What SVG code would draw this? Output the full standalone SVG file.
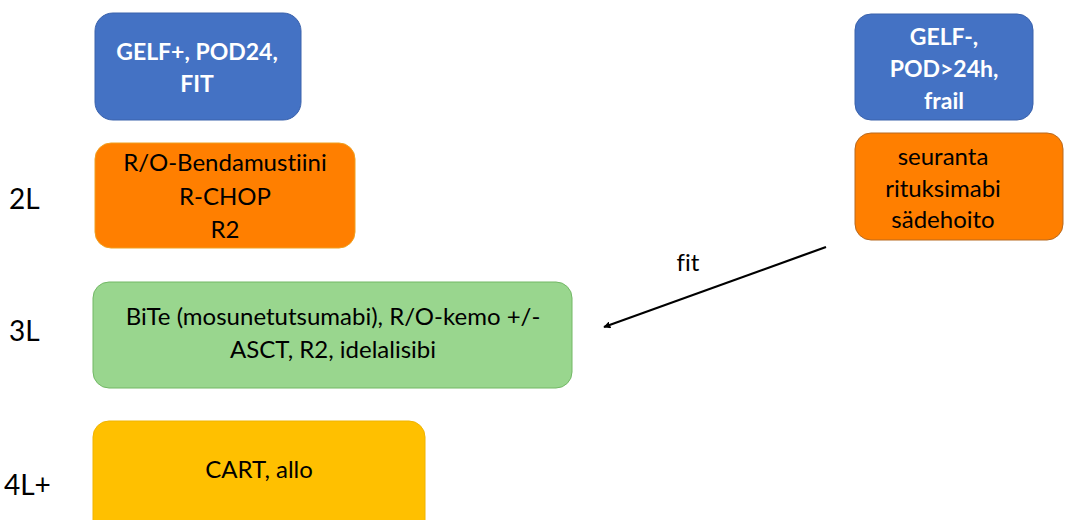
<svg xmlns="http://www.w3.org/2000/svg" width="1065" height="520" viewBox="0 0 1065 520">
<defs>
<style>
text{font-family:Lato,"Open Sans","Liberation Sans",sans-serif;text-anchor:middle;font-variant-ligatures:none;}
.w{fill:#fff;font-weight:bold;font-size:23px;}
.b{fill:#000;font-size:24px;}
.lbl{fill:#000;font-size:28px;text-anchor:start;}
.blue{fill:#4472C4;stroke:#3A62AC;stroke-width:1;}
.orange{fill:#FF7F00;stroke:#F0A020;stroke-width:1;}
.orange2{fill:#FF7F00;stroke:#B86A20;stroke-width:1;}
.green{fill:#99D68E;stroke:#72B865;stroke-width:1;}
.yellow{fill:#FFC000;stroke:#F0B400;stroke-width:1;}
</style>
<marker id="ah" viewBox="0 0 10 10" refX="9" refY="5" markerWidth="7" markerHeight="7" orient="auto" markerUnits="userSpaceOnUse">
<path d="M0,0 L10,5 L0,10 z" fill="#000"/>
</marker>
</defs>
<rect width="1065" height="520" fill="#fff"/>
<g id="label-2L"><text class="lbl" x="9" y="209">2L</text></g>
<g id="label-3L"><text class="lbl" x="9" y="341">3L</text></g>
<g id="label-4L"><text class="lbl" x="4" y="495">4L+</text></g>
<g id="n-gelfplus">
<rect class="blue" x="95" y="13" width="206" height="107" rx="18"/>
<text class="w" x="197" y="60">GELF+, POD24,</text>
<text class="w" x="197" y="92">FIT</text>
</g>
<g id="n-2L-left">
<rect class="orange" x="95" y="143" width="260" height="105" rx="16"/>
<text class="b" x="225" y="171">R/O-Bendamustiini</text>
<text class="b" x="225" y="205">R-CHOP</text>
<text class="b" x="225" y="238">R2</text>
</g>
<g id="n-gelfminus">
<rect class="blue" x="855" y="14" width="178" height="106" rx="16"/>
<text class="w" x="944" y="45">GELF-,</text>
<text class="w" x="944" y="77">POD&gt;24h,</text>
<text class="w" x="944" y="109">frail</text>
</g>
<g id="n-2L-right">
<rect class="orange2" x="855" y="133" width="208" height="107" rx="16"/>
<text class="b" x="943" y="165">seuranta</text>
<text class="b" x="943" y="197">rituksimabi</text>
<text class="b" x="943" y="228">sädehoito</text>
</g>
<g id="n-3L">
<rect class="green" x="93" y="282" width="479" height="106" rx="16"/>
<text class="b" x="333" y="325">BiTe (mosunetutsumabi), R/O-kemo +/-</text>
<text class="b" x="333" y="358">ASCT, R2, idelalisibi</text>
</g>
<g id="n-4L">
<rect class="yellow" x="93" y="421" width="332" height="120" rx="16"/>
<text class="b" x="259" y="478">CART, allo</text>
</g>
<g id="connectors">
<line x1="826" y1="247" x2="604" y2="327" stroke="#000" stroke-width="2.2" marker-end="url(#ah)"/>
<text class="b" x="688" y="271">fit</text>
</g>
</svg>
